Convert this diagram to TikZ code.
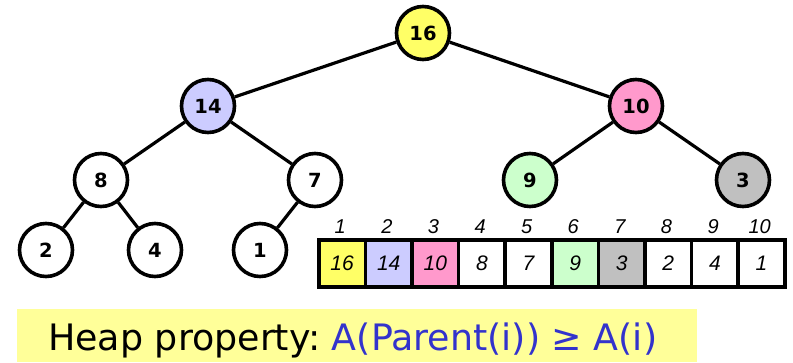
\documentclass[tikz,border=0pt]{standalone}
\usepackage{fontspec}
\setmainfont{Liberation Sans}
\newfontfamily\nodefont{DejaVu Sans}
\usepackage{graphicx}
\usetikzlibrary{backgrounds}
\definecolor{cyel}{HTML}{FFFF66}
\definecolor{clav}{HTML}{CCCCFF}
\definecolor{cpink}{HTML}{FF99CC}
\definecolor{cgreen}{HTML}{CCFFCC}
\definecolor{cgray}{HTML}{C0C0C0}
\definecolor{cbox}{HTML}{FFFF99}
\definecolor{cblue}{HTML}{3333CC}
\begin{document}
\begin{tikzpicture}[x=1pt,y=-1pt,
  hn/.style={circle,draw=black,line width=3.6pt,fill=white,minimum size=53pt,inner sep=0pt,font=\nodefont\fontsize{19.5}{19.5}\selectfont\bfseries},
  edge/.style={line width=3.2pt},
  cell/.style={draw=black,line width=3.6pt,fill=white,minimum width=46.6pt,minimum height=47pt,inner sep=0pt,anchor=north west,font=\fontsize{21}{21}\selectfont\itshape},
  idx/.style={font=\fontsize{20}{20}\selectfont\itshape,anchor=base}]
\useasboundingbox (0,0) rectangle (793,362);
\node[hn,fill=cyel] (n1) at (423,33) {16};
\node[hn,fill=clav] (n2) at (208,106) {14};
\node[hn,fill=cpink] (n3) at (636,106) {10};
\node[hn] (n4) at (101,180) {8};
\node[hn] (n5) at (315,180) {7};
\node[hn,fill=cgreen] (n6) at (530,180) {9};
\node[hn,fill=cgray] (n7) at (743,180) {3};
\node[hn] (n8) at (46,250) {2};
\node[hn] (n9) at (155,250) {4};
\node[hn] (n10) at (260,250) {1};
\begin{scope}[on background layer]
\draw[edge] (n1) -- (n2);
\draw[edge] (n1) -- (n3);
\draw[edge] (n2) -- (n4);
\draw[edge] (n2) -- (n5);
\draw[edge] (n3) -- (n6);
\draw[edge] (n3) -- (n7);
\draw[edge] (n4) -- (n8);
\draw[edge] (n4) -- (n9);
\draw[edge] (n5) -- (n10);
\end{scope}
% array
\foreach \i/\v/\c in {1/16/cyel,2/14/clav,3/10/cpink,4/8/white,5/7/white,6/9/cgreen,7/3/cgray,8/2/white,9/4/white,10/1/white}{
  \node[cell,fill=\c] (a\i) at ({317+(\i-1)*46.6},238) {\v};
  \node[idx] (i\i) at ({340.3+(\i-1)*46.6},233) {\i};
}
% heap property box
\fill[cbox] (17,309) rectangle (697,362);
\node[anchor=base west,inner sep=0pt] (hp) at (48,350) {\resizebox{609pt}{!}{\nodefont Heap property:\ \textcolor{cblue}{A(Parent(i))\ ≥\ A(i)}}};
\end{tikzpicture}
\end{document}
